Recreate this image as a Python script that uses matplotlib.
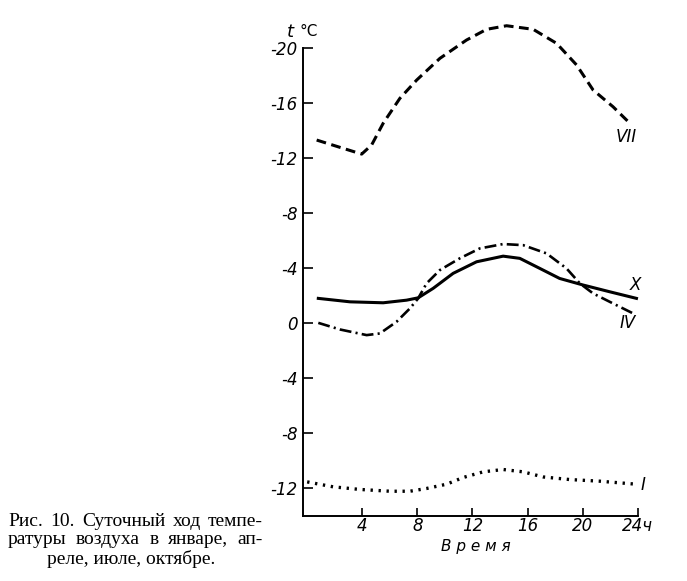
import matplotlib
matplotlib.use("Agg")
import matplotlib.pyplot as plt

# Data (hours, temperature)
jul_h = [0.69, 2.38, 3.96, 4.68, 5.52, 6.73, 7.95, 9.64, 11.57, 13.03, 14.48,
         16.41, 18.11, 19.56, 20.76, 22.21, 23.43]
jul_t = [13.33, 12.8, 12.31, 12.97, 14.55, 16.36, 17.69, 19.27, 20.6, 21.38,
         21.64, 21.38, 20.36, 18.79, 16.97, 15.75, 14.55]

apr_h = [0.81, 2.38, 4.32, 5.28, 6.49, 7.46, 8.06, 8.67, 9.64, 11.08, 12.53,
         14.23, 15.68, 17.38, 18.83, 19.8, 20.76, 22.21, 23.66]
apr_t = [0.04, -0.44, -0.85, -0.73, 0.12, 1.09, 1.82, 2.91, 3.88, 4.73, 5.45,
         5.77, 5.69, 5.09, 4.0, 2.91, 2.18, 1.45, 0.73]

oct_h = [0.81, 3.11, 5.52, 7.22, 8.06, 9.15, 10.6, 12.3, 14.23, 15.44, 16.89,
         18.33, 20.04, 21.97, 23.91]
oct_t = [1.82, 1.57, 1.5, 1.69, 1.86, 2.55, 3.64, 4.48, 4.89, 4.73, 4.0,
         3.27, 2.79, 2.3, 1.82]

jan_h = [0.0, 1.89, 3.83, 6.01, 7.46, 8.67, 10.12, 11.33, 12.78, 14.23, 15.68,
         17.13, 19.07, 21.25, 23.91]
jan_t = [-11.52, -11.88, -12.07, -12.2, -12.2, -12.0, -11.69, -11.2, -10.79,
         -10.62, -10.79, -11.16, -11.35, -11.47, -11.69]

y_ticks = [20, 16, 12, 8, 4, 0, -4, -8, -12]
y_labels = ["-20", "-16", "-12", "-8", "-4", "0", "-4", "-8", "-12"]
x_ticks = [4, 8, 12, 16, 20, 24]
x_labels = ["4", "8", "12", "16", "20", "24ч"]

caption = ["Рис. 10. Суточный ход темпе-",
           "ратуры воздуха в январе, ап-",
           "реле, июле, октябре."]

W, H = 687, 581
narrow = ["Liberation Sans Narrow", "DejaVu Sans"]

fig = plt.figure(figsize=(W / 100, H / 100), dpi=100)
ax = fig.add_axes([303.3 / W, 1 - 516 / H, (637.7 - 303.3) / W, (516 - 48.3) / H])
ax.set_xlim(-0.28, 24)
ax.set_ylim(-14, 20)

ax.plot(jul_h, jul_t, color="black", lw=2.2, dashes=(3.2, 1.8), clip_on=False)
ax.plot(apr_h, apr_t, color="black", lw=1.9, dashes=(4.5, 1.6, 0.8, 1.6), clip_on=False)
ax.plot(oct_h, oct_t, color="black", lw=2.2, clip_on=False)
ax.plot(jan_h, jan_t, color="black", lw=2.4, dashes=(0.7, 1.7), clip_on=False)

for name, hx, ty in [("VII", 23.2, 13.57), ("X", 23.8, 2.8), ("IV", 23.3, 0.0), ("I", 24.35, -11.76)]:
    ax.text(hx, ty, name, ha="center", va="center", fontsize=12, style="italic",
            family=narrow, clip_on=False)

for side in ["top", "right"]:
    ax.spines[side].set_visible(False)
for side in ["left", "bottom"]:
    ax.spines[side].set_linewidth(1.4)

ax.set_yticks(y_ticks)
ax.set_yticklabels(y_labels)
ax.set_xticks(x_ticks)
ax.set_xticklabels(x_labels)
ax.tick_params(axis="y", direction="in", length=7, width=1.2, pad=4, labelsize=12)
ax.tick_params(axis="x", direction="in", length=6, width=1.2, pad=1, labelsize=12)
for lab in ax.get_xticklabels() + ax.get_yticklabels():
    lab.set_fontstyle("italic")
    lab.set_family(narrow)

fig.text(290 / W, 1 - 32 / H, "t", fontsize=13, style="italic", family=narrow,
         ha="center", va="center")
fig.text(309 / W, 1 - 31 / H, "°C", fontsize=11, family=narrow,
         ha="center", va="center")
fig.text(476 / W, 1 - 546 / H, "В р е м я", fontsize=11, style="italic",
         family=narrow, ha="center", va="center")

# caption, justified like the book page
renderer = fig.canvas.get_renderer()
left, right = 8, 263
rows = [521, 540, 559]
cap_size = 14
for i, line in enumerate(caption):
    y = 1 - rows[i] / H
    if i == len(caption) - 1:
        fig.text(131 / W, y, line, fontsize=cap_size, family="Liberation Serif",
                 ha="center", va="center")
        continue
    words = line.split()
    items = [fig.text(0, y, w, fontsize=cap_size, family="Liberation Serif", va="center")
             for w in words]
    widths = [t.get_window_extent(renderer).width for t in items]
    gap = (right - left - sum(widths)) / (len(words) - 1)
    xpos = left
    for t, wd in zip(items, widths):
        t.set_x(xpos / W)
        xpos += wd + gap

fig.savefig("out.png", dpi=100)
